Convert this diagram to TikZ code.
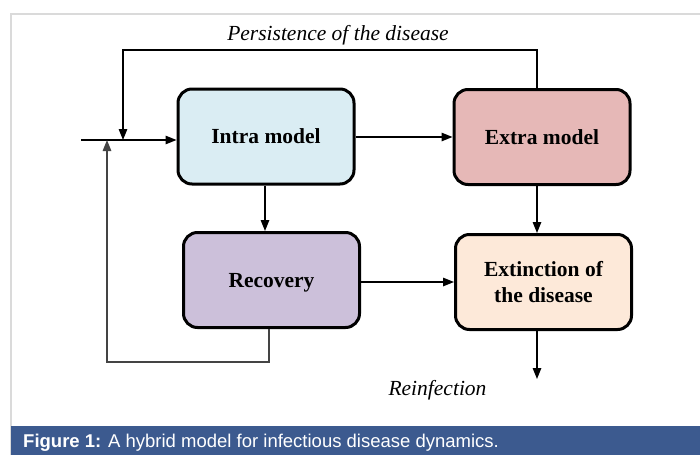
\documentclass[tikz,border=0pt]{standalone}
\usepackage{fontspec}
\setmainfont{Liberation Serif}
\newfontfamily\capfont{Liberation Sans}
\usetikzlibrary{arrows.meta}
\definecolor{intrac}{HTML}{DAEDF3}
\definecolor{extrac}{HTML}{E6B8B7}
\definecolor{recovc}{HTML}{CCC0DA}
\definecolor{extinc}{HTML}{FDE9D9}
\definecolor{framec}{HTML}{DADADA}
\definecolor{barc}{HTML}{3C5A8F}
\definecolor{retc}{HTML}{444444}
\tikzset{
  box/.style={draw=black, line width=3pt, rounded corners=14pt, minimum width=176pt, minimum height=95pt, align=center, font=\fontsize{21.5}{26}\selectfont\bfseries, inner sep=0pt},
  onel/.style={text height=14pt, text depth=0pt},
  conn/.style={line width=1.4pt, -{Triangle[length=11pt,width=8.5pt]}},
  lbl/.style={font=\fontsize{21.5}{24}\selectfont\itshape, inner sep=0pt}
}
\begin{document}
\begin{tikzpicture}[x=1pt,y=-1pt]
\useasboundingbox (0,0) rectangle (700,455);
\fill[white] (0,0) rectangle (700,455);
% frame
\draw[framec, line width=1.5pt] (11,455) -- (11,14) -- (700,14);
% caption bar
\fill[barc] (11,426) rectangle (700,455);
\node[anchor=west, text=white, inner sep=0pt, font=\capfont\fontsize{18.5}{20}\selectfont] (cap) at (23,443) {\textbf{Figure 1:} A hybrid model for infectious disease dynamics.};
% boxes
\node[box, onel, fill=intrac] (intra) at (266,136.5) {Intra model};
\node[box, onel, fill=extrac] (extra) at (542,137) {Extra model};
\node[box, onel, fill=recovc] (recov) at (271.5,280) {Recovery};
\node[box, fill=extinc] (extin) at (543.5,282) {Extinction of\\the disease};
% labels
\node[lbl] (pers) at (338,35) {Persistence of the disease};
\node[lbl] (reinf) at (437.5,390) {Reinfection};
% coordinates
\coordinate (in0) at (81,140);
\coordinate (jA) at (123,140);
\coordinate (jB) at (107,140);
\coordinate (tr) at (537,50);
\coordinate (tl) at (123,50);
\coordinate (rb) at (269,362);
\coordinate (lb) at (107,362);
\coordinate (out) at (537,379);
% connectors
\draw[conn] (in0) -- (intra.west |- in0);
\draw[conn] (extra.north -| tr) -- (tr) -- (tl) -- (jA);
\draw[conn, retc] (recov.south -| rb) -- (rb) -- (lb) -- (jB);
\draw[conn] (intra.east |- 0,137) -- (extra.west |- 0,137);
\draw[conn] (intra.south -| 265,0) -- (recov.north -| 265,0);
\draw[conn] (extra.south -| 537,0) -- (extin.north -| 537,0);
\draw[conn] (recov.east |- 0,282) -- (extin.west |- 0,282);
\draw[conn] (extin.south -| out) -- (out);
\end{tikzpicture}
\end{document}
